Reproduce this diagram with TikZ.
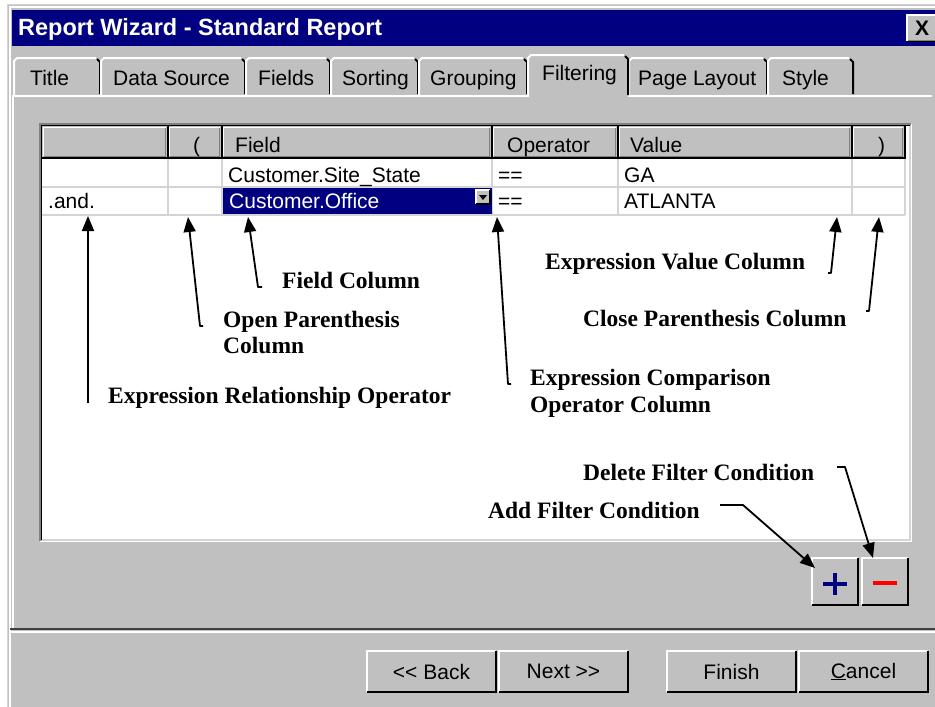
\documentclass[tikz,border=0pt]{standalone}
\usepackage{fontspec}
\setmainfont{Liberation Serif}
\setsansfont{Liberation Sans}
\usetikzlibrary{arrows.meta}

\definecolor{wingray}{HTML}{C0C0C0}
\definecolor{winnavy}{HTML}{000080}
\definecolor{winshade}{HTML}{808080}
\definecolor{gridgray}{HTML}{D4D4D4}

\begin{document}
\begin{tikzpicture}[x=1pt, y=-1pt, >={Triangle[length=15pt,width=12pt]},
    ui/.style={font=\sffamily\fontsize{21}{25}\selectfont, inner sep=0pt, anchor=base west},
    note/.style={font=\bfseries\fontsize{23.5}{28}\selectfont, inner sep=0pt, anchor=base west},
    winbtn/.style={fill=wingray, inner sep=0pt, font=\sffamily\fontsize{21}{25}\selectfont},
    callout/.style={->, line width=1.8pt, line join=round}]
    \useasboundingbox (0,0) rectangle (935,707);
    \fill[white] (0,0) rectangle (935,707);

    % window frame and title bar
    \fill[wingray] (7,4) rectangle (935,707);
    \draw[gridgray] (7.5,707) -- (7.5,4.5) -- (935,4.5);
    \draw[white, line width=2pt] (10,707) -- (10,7) -- (935,7);
    \fill[winnavy] (12,10) rectangle (935,46);
    \node[font=\sffamily\bfseries\fontsize{23.5}{28}\selectfont, text=white, inner sep=0pt, anchor=base west] (title) at (18,35) {Report Wizard - Standard Report};
    \node[winbtn, minimum width=30, minimum height=26, anchor=north west] (closebtn) at (907,15) {\bfseries X};

    % tabs
    \draw[white, line width=2pt] (13,628) -- (13,96) -- (932,96);
    \foreach \l/\r/\tx/\id/\name in {14/100/30/title/Title, 101/245/113/source/Data Source, 246/330/258/fields/Fields, 331/418/342/sorting/Sorting, 419/527/430/grouping/Grouping, 629/767/638/layout/Page Layout, 768/853/782/style/Style} {
        \draw[white, line width=2pt] (\l,95) -- (\l,61) -- (\l+3,58) -- (\r-4,58);
        \draw[black, line width=2pt] (\r-3,59) -- (\r,62) -- (\r,94);
        \node[ui] (tab\id) at (\tx,85) {\name};
    }
    \fill[wingray] (528,55) rectangle (628,98);
    \draw[white, line width=2pt] (528,97) -- (528,58) -- (531,55) -- (624,55);
    \draw[black, line width=2pt] (625,56) -- (628,59) -- (628,95);
    \node[ui] (tabfilter) at (542,80) {Filtering};

    % filter grid
    \fill[white] (42,126) rectangle (910,540);
    \draw[winshade, line width=1.5pt] (40,541) -- (40,124) -- (911,124);
    \draw[black, line width=1.5pt] (41.5,539.5) -- (41.5,125.5) -- (909.5,125.5);
    \draw[white, line width=1.5pt] (40,541.5) -- (911.5,541.5) -- (911.5,124);
    \draw[gridgray, line width=1.5pt] (42,540) -- (910,540) -- (910,126);
    \fill[wingray] (42,126) rectangle (905,158);
    \foreach \a/\b in {42/168, 168/222, 222/492, 492/618, 618/852, 852/905} {
        \draw[white, line width=1.5pt] (\a+1.5,156) -- (\a+1.5,127.5) -- (\b-2,127.5);
        \draw[winshade] (\a+1.5,156) -- (\b-2.5,156) -- (\b-2.5,127.5);
        \draw[black, line width=1.5pt] (\a,158) -- (\b,158) -- (\b,126);
    }
    \draw[gridgray, line width=1.5pt] (42,187) -- (905,187) (42,215) -- (905,215);
    \foreach \c in {168,222,492,618,852,905}
        \draw[gridgray, line width=1.5pt] (\c,159) -- (\c,215);
    \fill[winnavy] (223,188) rectangle (492,214);

    \node[ui] (hdropen) at (193,152) {(};
    \node[ui] (hdrfield) at (235,152) {Field};
    \node[ui] (hdroper) at (507,152) {Operator};
    \node[ui] (hdrvalue) at (630,152) {Value};
    \node[ui] (hdrclose) at (878,152) {)};
    \node[ui] (fieldone) at (228,182) {Customer.Site\_State};
    \node[ui] (operone) at (498,182) {==};
    \node[ui] (valueone) at (624,182) {GA};
    \node[ui] (relop) at (48,208) {.and.};
    \node[ui, text=white] (fieldtwo) at (229,208) {Customer.Office};
    \node[ui] (opertwo) at (498,208) {==};
    \node[ui] (valuetwo) at (624,208) {ATLANTA};
    \node[winbtn, minimum width=14, minimum height=14] (dropbtn) at (483,197) {};
    \fill (479,195) -- (487,195) -- (483,200) -- cycle;

    % add / delete buttons
    \node[winbtn, minimum width=46, minimum height=47] (addbtn) at (835,581.5) {};
    \node[winbtn, minimum width=46, minimum height=47] (delbtn) at (885,581.5) {};
    \draw[winnavy, line width=4pt] (823,584) -- (847,584) (835,573) -- (835,595);
    \draw[red, line width=4pt] (873,583) -- (897,583);

    % wizard buttons
    \draw[black!75, line width=2pt] (10,629) -- (935,629);
    \draw[white, line width=1.5pt] (10,632) -- (935,632);
    \node[winbtn, minimum width=129, minimum height=41] (back) at (431.5,671.5) {<\kern0pt< Back};
    \node[winbtn, minimum width=129, minimum height=41] (next) at (563.5,671.5) {Next >\kern0pt>};
    \node[winbtn, minimum width=129, minimum height=41] (finish) at (731.5,671.5) {Finish};
    \node[winbtn, minimum width=129, minimum height=41] (cancel) at (863.5,671.5) {\underline{C}ancel};
    \foreach \b in {closebtn, dropbtn, addbtn, delbtn, back, next, finish, cancel} {
        \draw[white, line width=1.5pt] (\b.south west) -- (\b.north west) -- (\b.north east);
        \draw[winshade] ([xshift=1pt,yshift=1.5pt]\b.south west) -- ([xshift=-1.5pt,yshift=1.5pt]\b.south east) -- ([xshift=-1.5pt,yshift=-1pt]\b.north east);
        \draw[black, line width=1.5pt] (\b.south west) -- (\b.south east) -- (\b.north east);
    }

    % callouts
    \node[note] (relnote) at (108,403) {Expression Relationship Operator};
    \node[note] (opennote) at (223,327) {Open Parenthesis};
    \node[note] (opennotetwo) at (223,353) {Column};
    \node[note] (fieldnote) at (282,288) {Field Column};
    \node[note] (cmpnote) at (530,385) {Expression Comparison};
    \node[note] (cmpnotetwo) at (530,412) {Operator Column};
    \node[note] (valnote) at (545,269) {Expression Value Column};
    \node[note] (closenote) at (583,326) {Close Parenthesis Column};
    \node[note] (delnote) at (583,480) {Delete Filter Condition};
    \node[note] (addnote) at (488,518) {Add Filter Condition};

    \coordinate (relfoot) at (88,403);   \coordinate (reltip) at (88,216);
    \coordinate (openfoot) at (200,326); \coordinate (opentip) at (188,217);
    \coordinate (fieldfoot) at (258,287); \coordinate (fieldtip) at (248,217);
    \coordinate (cmpfoot) at (508,384);  \coordinate (cmptip) at (497,217);
    \coordinate (valfoot) at (831,273);  \coordinate (valtip) at (837,217);
    \coordinate (closefoot) at (869,311); \coordinate (closetip) at (879,217);
    \coordinate (delfoot) at (845,467);  \coordinate (deltip) at (873,558);
    \coordinate (addfoot) at (743,505);  \coordinate (addtip) at (815,568);

    \draw[callout] (relfoot) -- (reltip);
    \draw[callout] ([xshift=3pt]openfoot) -- (openfoot) -- (opentip);
    \draw[callout] ([xshift=4pt]fieldfoot) -- (fieldfoot) -- (fieldtip);
    \draw[callout] ([xshift=3pt]cmpfoot) -- (cmpfoot) -- (cmptip);
    \draw[callout] ([xshift=-3pt]valfoot) -- (valfoot) -- (valtip);
    \draw[callout] ([xshift=-3pt]closefoot) -- (closefoot) -- (closetip);
    \draw[callout] ([xshift=-8pt]delfoot) -- (delfoot) -- (deltip);
    \draw[callout] ([xshift=-23pt]addfoot) -- (addfoot) -- (addtip);
\end{tikzpicture}
\end{document}
